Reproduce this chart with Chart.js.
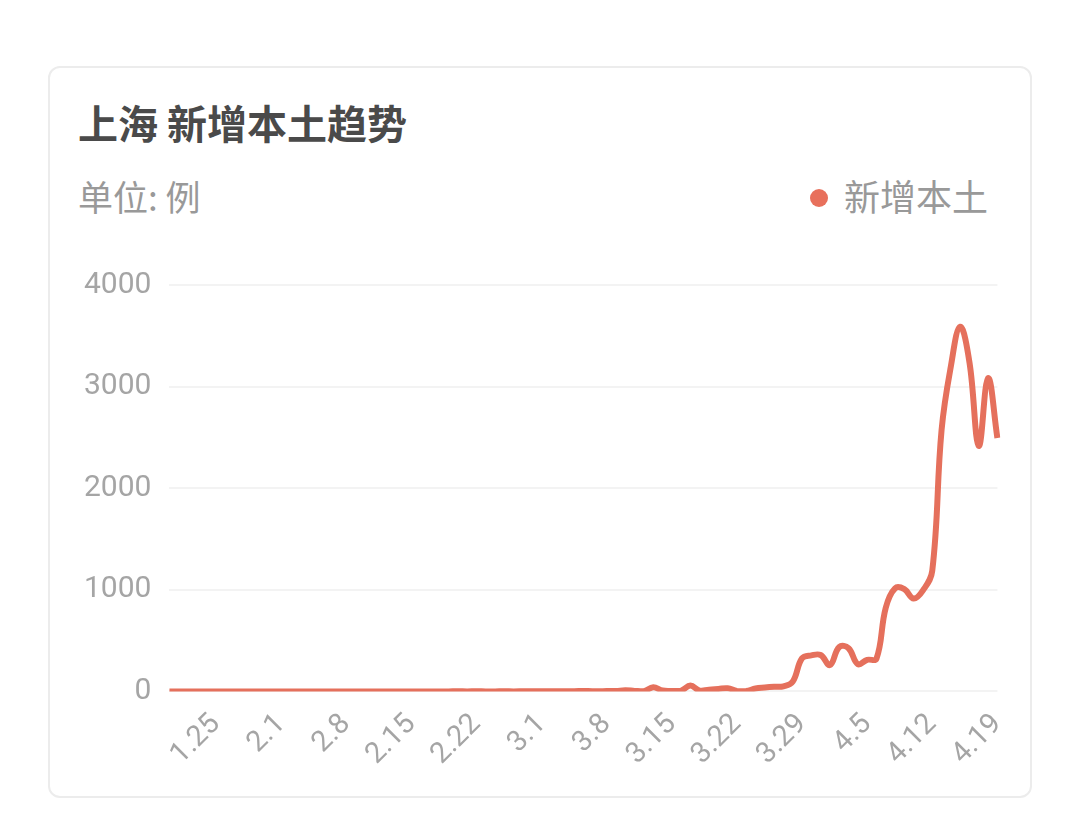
<!DOCTYPE html>
<html>
<head>
<meta charset="utf-8">
<script src="https://cdn.jsdelivr.net/npm/chart.js@4/dist/chart.umd.min.js"></script>
<style>
  html, body { margin:0; padding:0; background:#fff; width:1080px; height:817px; overflow:hidden; }
  body { font-family: "Noto Sans CJK SC", "Noto Sans", sans-serif; }
  .card { position:absolute; left:48px; top:66px; width:980px; height:728px;
          border:2px solid #ececec; border-radius:12px; background:#fff; }
  .title { position:absolute; left:28px; top:34px; font-size:40px; font-weight:700; color:#4a4a4a; line-height:1; }
  .unit { position:absolute; left:28px; top:110px; font-size:35px; color:#999; line-height:1; }
  .legend { position:absolute; right:42px; top:109px; font-size:36px; color:#999; line-height:1; }
  .legend .dot { display:inline-block; width:18px; height:18px; border-radius:50%; background:#e8705c;
                 margin-right:16px; vertical-align:middle; position:relative; top:-3px; }
  .wrap { position:absolute; left:0; top:172px; width:980px; height:556px; }
</style>
</head>
<body>
<div class="card">
  <div class="title">上海 新增本土趋势</div>
  <div class="unit">单位: 例</div>
  <div class="legend"><span class="dot"></span>新增本土</div>
  <div class="wrap"><canvas id="trend"></canvas></div>
</div>
<script>
// daily dates, 1.20 - 4.19
const dates = [
  '1.20','1.21','1.22','1.23','1.24','1.25','1.26','1.27','1.28','1.29','1.30','1.31',
  '2.1','2.2','2.3','2.4','2.5','2.6','2.7','2.8','2.9','2.10','2.11','2.12','2.13','2.14',
  '2.15','2.16','2.17','2.18','2.19','2.20','2.21','2.22','2.23','2.24','2.25','2.26','2.27','2.28',
  '3.1','3.2','3.3','3.4','3.5','3.6','3.7','3.8','3.9','3.10','3.11','3.12','3.13','3.14',
  '3.15','3.16','3.17','3.18','3.19','3.20','3.21','3.22','3.23','3.24','3.25','3.26','3.27','3.28',
  '3.29','3.30','3.31',
  '4.1','4.2','4.3','4.4','4.5','4.6','4.7','4.8','4.9','4.10','4.11','4.12','4.13','4.14',
  '4.15','4.16','4.17','4.18','4.19'
];
// new local cases per day
const janCases = [0,0,0,0,0,0,0,0,0,0,0,0];
const febCases = [0,0,0,0,0,0,0,0,0,0,0,0,0,0,0,0,0,0,0,1,0,1,0,0,1,0,1,2];
const marCases = [2,1,2,2,3,3,1,3,4,11,5,1,41,9,5,8,57,8,17,24,31,4,4,29,38,45,50,96,326,355,358];
const aprCases = [260,438,425,268,311,322,824,1015,1006,914,994,1189,2573,3200,3590,3238,2417,3084,2494];
const yTicks = [0, 1000, 2000, 3000, 4000];

const cases = [...janCases, ...febCases, ...marCases, ...aprCases];
const lineColor = '#e5705c';

new Chart(document.getElementById('trend'), {
  type: 'line',
  data: {
    labels: dates,
    datasets: [{
      label: '新增本土',
      data: cases,
      borderColor: lineColor,
      backgroundColor: lineColor,
      borderWidth: 6,
      pointRadius: 0,
      tension: 0.4,
      fill: false
    }]
  },
  options: {
    responsive: true,
    maintainAspectRatio: false,
    animation: false,
    layout: { padding: { left: 16, right: 30, top: 45, bottom: 16 } },
    plugins: { legend: { display: false }, tooltip: { enabled: false } },
    scales: {
      x: {
        grid: { display: false },
        border: { display: false },
        ticks: {
          autoSkip: false,
          maxRotation: 45, minRotation: 45,
          padding: 8,
          color: '#a5a5a5',
          font: { family: 'Roboto', size: 29 },
          callback: (v, i) => ((dates.length - 1 - i) % 7 === 0 ? dates[i] : null)
        }
      },
      y: {
        min: 0, max: 4000,
        afterBuildTicks: axis => { axis.ticks = yTicks.map(v => ({ value: v })); },
        grid: { color: '#f3f3f3', lineWidth: 2, drawTicks: false },
        border: { display: false },
        ticks: {
          padding: 18,
          color: '#a5a5a5',
          font: { family: 'Roboto', size: 30 },
          callback: v => String(v)
        }
      }
    }
  }
});
</script>
</body>
</html>
